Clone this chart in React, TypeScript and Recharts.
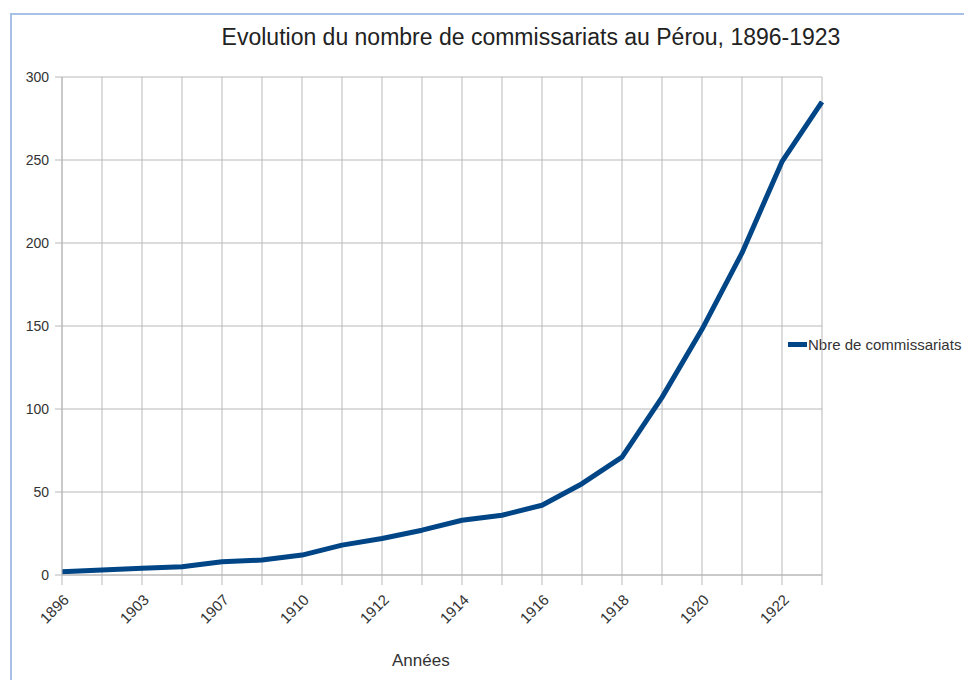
import React from 'react';
import { LineChart, Line, XAxis, YAxis, CartesianGrid } from 'recharts';

// ── Données ────────────────────────────────────────────────
const YEARS = [
  '1896', '1901', '1903', '1905', '1907', '1909', '1910', '1911', '1912', '1913',
  '1914', '1915', '1916', '1917', '1918', '1919', '1920', '1921', '1922', '1923',
];
const COMMISSARIATS = [2, 3, 4, 5, 8, 9, 12, 18, 22, 27, 33, 36, 42, 55, 71, 107, 148, 194, 249, 285];
const Y_TICKS = [0, 50, 100, 150, 200, 250, 300];

const SERIES_NAME = 'Nbre de commissariats';
const TITLE = 'Evolution du nombre de commissariats au Pérou, 1896-1923';
const X_LABEL = 'Années';

const data = YEARS.map((year, i) => ({ year, value: COMMISSARIATS[i] }));

const BLUE = '#004586';
const GRID = '#b8b8b8';
const FONT = '"Liberation Sans", Arial, sans-serif';

// étiquette inclinée, une sur deux
const YearTick = ({ x, y, payload, index }: any) => {
  if (index % 2 !== 0) return null;
  return (
    <g transform={`translate(${x},${y})`}>
      <text x={5} y={11} textAnchor="end" transform="rotate(-45 5 11)"
        fontSize={15} fill="#333" fontFamily={FONT} dominantBaseline="middle">
        {payload.value}
      </text>
    </g>
  );
};

export default function App() {
  return (
    <div style={{ position: 'absolute', left: 0, top: 0, width: 964, height: 680, background: '#fff', overflow: 'hidden' }}>
      {/* cadre */}
      <div style={{ position: 'absolute', left: 10, top: 13, width: 954, height: 667, borderLeft: '2px solid #a7c1e6', borderTop: '2px solid #a7c1e6' }} />
      <div style={{ position: 'absolute', left: 0, width: 1062, top: 24, textAlign: 'center', fontFamily: FONT, fontSize: 23, color: '#222' }}>
        {TITLE}
      </div>
      <div style={{ position: 'absolute', left: 392, top: 651, fontFamily: FONT, fontSize: 17, color: '#333' }}>
        {X_LABEL}
      </div>
      {/* légende */}
      <div style={{ position: 'absolute', left: 788, top: 336, display: 'flex', alignItems: 'center', fontFamily: FONT, fontSize: 15, color: '#333', whiteSpace: 'nowrap' }}>
        <span style={{ display: 'inline-block', width: 19, height: 5, background: BLUE, marginRight: 1 }} />
        {SERIES_NAME}
      </div>
      <div style={{ position: 'absolute', left: 0, top: 0 }}>
        <LineChart width={964} height={680} data={data}
          margin={{ top: 77, right: 142, left: 12, bottom: 45 }}>
          <CartesianGrid stroke={GRID} strokeWidth={1} />
          <XAxis dataKey="year" interval={0} tick={<YearTick />} tickSize={10} tickMargin={2}
            height={60} axisLine={{ stroke: GRID }} tickLine={{ stroke: GRID }} />
          <YAxis domain={[0, 300]} ticks={Y_TICKS} width={50} tickSize={7} tickMargin={6}
            axisLine={{ stroke: GRID }} tickLine={{ stroke: GRID }}
            tick={{ fontSize: 14, fill: '#333', fontFamily: FONT }} />
          <Line type="linear" dataKey="value" name={SERIES_NAME} stroke={BLUE} strokeWidth={5}
            dot={false} isAnimationActive={false} strokeLinejoin="round" />
        </LineChart>
      </div>
    </div>
  );
}
